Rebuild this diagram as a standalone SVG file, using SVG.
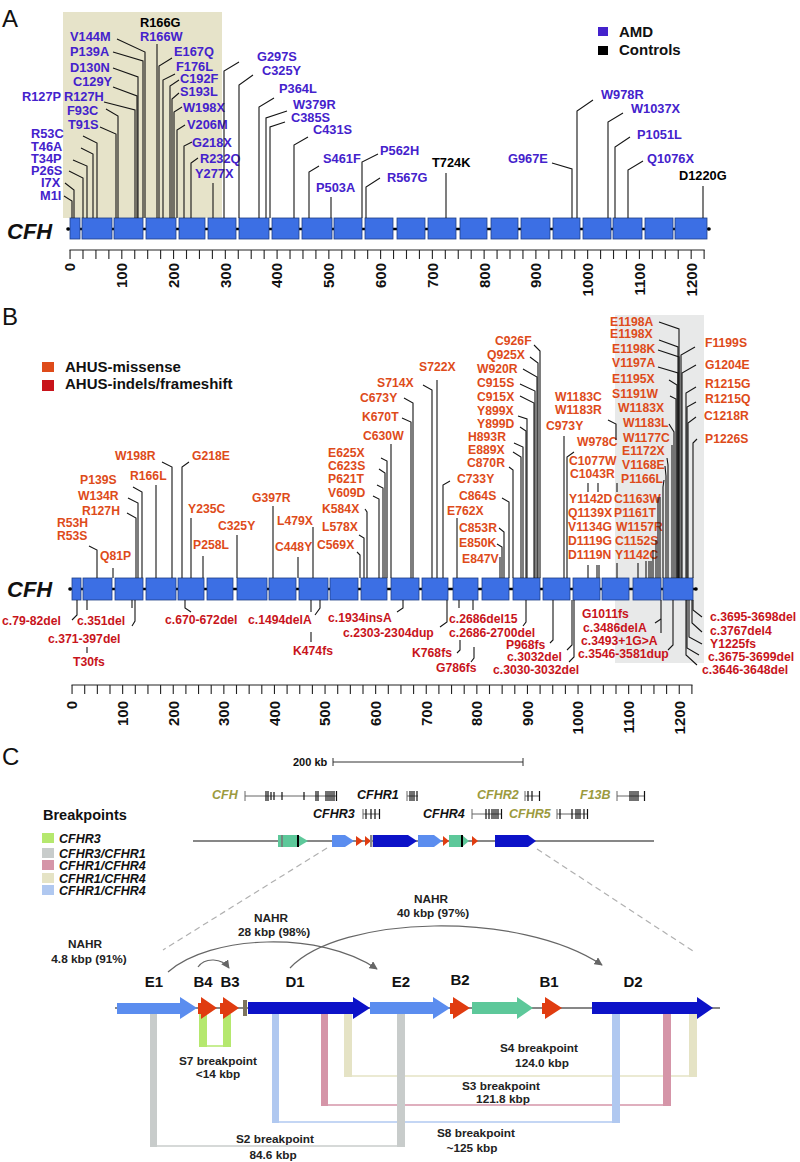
<svg xmlns="http://www.w3.org/2000/svg" width="800" height="1162" viewBox="0 0 800 1162">
<style>
text{font-family:"Liberation Sans",Arial,Helvetica,sans-serif;font-weight:bold}
.pl{font-size:24px;font-weight:normal;fill:#111}
.a{font-size:12.8px;fill:#4422cc}
.k{fill:#000}
.o{font-size:12.2px;fill:#de4b1a}
.r{font-size:12.2px;fill:#c8141b}
.ax{font-size:15px;fill:#111;text-anchor:end}
.gl{font-size:22px;font-style:italic;fill:#111}
.lg{font-size:15px;fill:#111}
.ld{fill:none;stroke:#151515;stroke-width:1.1}
.bx{fill:#3c6fe4;stroke:#1f3f85;stroke-width:0.8}
.bb{stroke:#000;stroke-width:2.4}
.tk{fill:none;stroke:#222;stroke-width:9;stroke-dasharray:1.1 11.84}
.c{font-size:11.8px;fill:#222;text-anchor:middle}
.gi{font-size:12.5px;font-style:italic;fill:#111}
.ol{fill:#9c9a3e}
.gn{fill:none;stroke:#666;stroke-width:1}
.ex{stroke:#111;stroke-width:1.2}
.lb{fill:#5b8def}
.db{fill:#0c12c8}
.gr{fill:#5dc89a}
.rd{fill:#e03c10}
.arc{fill:none;stroke:#666;stroke-width:1.2;marker-end:url(#ah)}
.dash{stroke:#b0b0b0;stroke-width:1.2;stroke-dasharray:6 4}
.gen{font-size:15px;fill:#111;text-anchor:middle}
</style>
<defs>
<marker id="ah" viewBox="0 0 10 10" refX="9" refY="5" markerWidth="7" markerHeight="7" orient="auto"><path d="M0,0 L10,5 L0,10 z" fill="#666"/></marker>
</defs>
<rect width="800" height="1162" fill="#fff"/>

<!-- ================= PANEL A ================= -->
<g id="panelA">
<text class="pl" x="2" y="27">A</text>
<rect id="A-shade" x="63" y="12" width="159" height="206" fill="#e6e3c9"/>
<g id="A-legend">
<rect x="598" y="27" width="10" height="9" fill="#4422cc"/>
<text class="lg" x="619" y="37">AMD</text>
<rect x="598" y="46" width="10" height="9" fill="#000"/>
<text class="lg" x="619" y="55">Controls</text>
</g>
<g id="A-gene">
<text class="gl" x="7" y="239">CFH</text>
<line class="bb" x1="68" y1="229" x2="709" y2="229"/>
<circle cx="68" cy="229" r="1.8"/><circle cx="709" cy="229" r="1.8"/>
<rect class="bx" x="70" y="218" width="10" height="21"/>
<rect class="bx" x="82" y="218" width="30" height="21"/>
<rect class="bx" x="114" y="218" width="29" height="21"/>
<rect class="bx" x="146" y="218" width="30" height="21"/>
<rect class="bx" x="179" y="218" width="26" height="21"/>
<rect class="bx" x="208" y="218" width="28" height="21"/>
<rect class="bx" x="239" y="218" width="30" height="21"/>
<rect class="bx" x="272" y="218" width="27" height="21"/>
<rect class="bx" x="302" y="218" width="30" height="21"/>
<rect class="bx" x="334" y="218" width="28" height="21"/>
<rect class="bx" x="365" y="218" width="28" height="21"/>
<rect class="bx" x="397" y="218" width="28" height="21"/>
<rect class="bx" x="428" y="218" width="28" height="21"/>
<rect class="bx" x="460" y="218" width="27" height="21"/>
<rect class="bx" x="491" y="218" width="27" height="21"/>
<rect class="bx" x="521" y="218" width="29" height="21"/>
<rect class="bx" x="553" y="218" width="27" height="21"/>
<rect class="bx" x="583" y="218" width="28" height="21"/>
<rect class="bx" x="613" y="218" width="29" height="21"/>
<rect class="bx" x="645" y="218" width="28" height="21"/>
<rect class="bx" x="675" y="218" width="32" height="21"/>
</g>
<g id="A-axis">
<line x1="69.5" y1="250" x2="704.7" y2="250" stroke="#222" stroke-width="1"/>
<line class="tk" x1="69.5" y1="254.5" x2="704.7" y2="254.5"/>
<text class="ax" transform="translate(75.4,263) rotate(-90)">0</text>
<text class="ax" transform="translate(127.2,263) rotate(-90)">100</text>
<text class="ax" transform="translate(178.9,263) rotate(-90)">200</text>
<text class="ax" transform="translate(230.7,263) rotate(-90)">300</text>
<text class="ax" transform="translate(282.4,263) rotate(-90)">400</text>
<text class="ax" transform="translate(334.2,263) rotate(-90)">500</text>
<text class="ax" transform="translate(386,263) rotate(-90)">600</text>
<text class="ax" transform="translate(437.7,263) rotate(-90)">700</text>
<text class="ax" transform="translate(489.5,263) rotate(-90)">800</text>
<text class="ax" transform="translate(541.2,263) rotate(-90)">900</text>
<text class="ax" transform="translate(593,263) rotate(-90)">1000</text>
<text class="ax" transform="translate(644.8,263) rotate(-90)">1100</text>
<text class="ax" transform="translate(696.5,263) rotate(-90)">1200</text>
</g>
<g id="A-labels">
<text class="a" x="40" y="200">M1I</text>
<text class="a" x="41" y="187">I7X</text>
<text class="a" x="31" y="175">P26S</text>
<text class="a" x="31" y="163">T34P</text>
<text class="a" x="31" y="151">T46A</text>
<text class="a" x="31" y="138">R53C</text>
<text class="a" x="68" y="129">T91S</text>
<text class="a" x="67" y="115">F93C</text>
<text class="a" x="22" y="101">R127P</text>
<text class="a" x="64" y="101">R127H</text>
<text class="a" x="73" y="86">C129Y</text>
<text class="a" x="70" y="72">D130N</text>
<text class="a" x="70" y="56">P139A</text>
<text class="a" x="70" y="41">V144M</text>
<text class="a k" x="140" y="27">R166G</text>
<text class="a" x="140" y="41">R166W</text>
<text class="a" x="174" y="56">E167Q</text>
<text class="a" x="176" y="71">F176L</text>
<text class="a" x="180" y="83">C192F</text>
<text class="a" x="180" y="96">S193L</text>
<text class="a" x="183" y="112">W198X</text>
<text class="a" x="187" y="129">V206M</text>
<text class="a" x="192" y="147">G218X</text>
<text class="a" x="200" y="163">R232Q</text>
<text class="a" x="195" y="178">Y277X</text>
<text class="a" x="257" y="61">G297S</text>
<text class="a" x="262" y="75">C325Y</text>
<text class="a" x="279" y="93">P364L</text>
<text class="a" x="293" y="109">W379R</text>
<text class="a" x="291" y="122">C385S</text>
<text class="a" x="313" y="134">C431S</text>
<text class="a" x="323" y="163">S461F</text>
<text class="a" x="316" y="192">P503A</text>
<text class="a" x="380" y="155">P562H</text>
<text class="a" x="387" y="182">R567G</text>
<text class="a k" x="432" y="167">T724K</text>
<text class="a" x="508" y="163">G967E</text>
<text class="a" x="601" y="99">W978R</text>
<text class="a" x="631" y="113">W1037X</text>
<text class="a" x="637" y="139">P1051L</text>
<text class="a" x="647" y="163">Q1076X</text>
<text class="a k" x="679" y="180">D1220G</text>
</g>
</g>

<!-- ================= PANEL B ================= -->
<g id="panelB">
<text class="pl" x="2" y="325">B</text>
<rect id="B-shade" x="615" y="315" width="89" height="348" fill="#e8e9e9"/>
<g id="B-legend">
<rect x="42" y="362" width="12" height="10" fill="#de4b1a"/>
<text class="lg" x="65" y="372">AHUS-missense</text>
<rect x="42" y="380" width="12" height="11" fill="#c8141b"/>
<text class="lg" x="65" y="389">AHUS-indels/frameshift</text>
</g>
<g id="B-gene">
<text class="gl" x="7" y="597">CFH</text>
<line class="bb" x1="70" y1="589" x2="696" y2="589"/>
<circle cx="70" cy="589" r="1.8"/><circle cx="696" cy="589" r="1.8"/>
<rect class="bx" x="72" y="578" width="9" height="22"/>
<rect class="bx" x="83" y="578" width="29" height="22"/>
<rect class="bx" x="115" y="578" width="28" height="22"/>
<rect class="bx" x="146" y="578" width="30" height="22"/>
<rect class="bx" x="178" y="578" width="26" height="22"/>
<rect class="bx" x="207" y="578" width="26" height="22"/>
<rect class="bx" x="237" y="578" width="30" height="22"/>
<rect class="bx" x="269" y="578" width="27" height="22"/>
<rect class="bx" x="299" y="578" width="29" height="22"/>
<rect class="bx" x="330" y="578" width="28" height="22"/>
<rect class="bx" x="361" y="578" width="26" height="22"/>
<rect class="bx" x="391" y="578" width="28" height="22"/>
<rect class="bx" x="422" y="578" width="26" height="22"/>
<rect class="bx" x="453" y="578" width="25" height="22"/>
<rect class="bx" x="482" y="578" width="27" height="22"/>
<rect class="bx" x="513" y="578" width="27" height="22"/>
<rect class="bx" x="543" y="578" width="27" height="22"/>
<rect class="bx" x="573" y="578" width="27" height="22"/>
<rect class="bx" x="602" y="578" width="27" height="22"/>
<rect class="bx" x="633" y="578" width="28" height="22"/>
<rect class="bx" x="663" y="578" width="30" height="22"/>
</g>
<g id="B-axis">
<line x1="71.5" y1="685" x2="692.5" y2="685" stroke="#222" stroke-width="1"/>
<line class="tk" style="stroke-dasharray:1.1 11.55" x1="71.5" y1="689.5" x2="692.5" y2="689.5"/>
<text class="ax" transform="translate(77.4,701) rotate(-90)">0</text>
<text class="ax" transform="translate(128,701) rotate(-90)">100</text>
<text class="ax" transform="translate(178.6,701) rotate(-90)">200</text>
<text class="ax" transform="translate(229.2,701) rotate(-90)">300</text>
<text class="ax" transform="translate(279.8,701) rotate(-90)">400</text>
<text class="ax" transform="translate(330.4,701) rotate(-90)">500</text>
<text class="ax" transform="translate(381,701) rotate(-90)">600</text>
<text class="ax" transform="translate(431.6,701) rotate(-90)">700</text>
<text class="ax" transform="translate(482.2,701) rotate(-90)">800</text>
<text class="ax" transform="translate(532.8,701) rotate(-90)">900</text>
<text class="ax" transform="translate(583.4,701) rotate(-90)">1000</text>
<text class="ax" transform="translate(634,701) rotate(-90)">1100</text>
<text class="ax" transform="translate(684.6,701) rotate(-90)">1200</text>
</g>
<g id="B-labels-top">
<text class="o" x="57" y="527">R53H</text>
<text class="o" x="57" y="540">R53S</text>
<text class="o" x="100" y="560">Q81P</text>
<text class="o" x="82" y="515">R127H</text>
<text class="o" x="78" y="500">W134R</text>
<text class="o" x="80" y="484">P139S</text>
<text class="o" x="130" y="480">R166L</text>
<text class="o" x="115" y="460">W198R</text>
<text class="o" x="192" y="460">G218E</text>
<text class="o" x="188" y="513">Y235C</text>
<text class="o" x="193" y="549">P258L</text>
<text class="o" x="218" y="530">C325Y</text>
<text class="o" x="252" y="502">G397R</text>
<text class="o" x="277" y="525">L479X</text>
<text class="o" x="275" y="551">C448Y</text>
<text class="o" x="317" y="549">C569X</text>
<text class="o" x="322" y="531">L578X</text>
<text class="o" x="322" y="513">K584X</text>
<text class="o" x="328" y="497">V609D</text>
<text class="o" x="328" y="483">P621T</text>
<text class="o" x="328" y="470">C623S</text>
<text class="o" x="328" y="457">E625X</text>
<text class="o" x="363" y="440">C630W</text>
<text class="o" x="362" y="421">K670T</text>
<text class="o" x="360" y="402">C673Y</text>
<text class="o" x="377" y="387">S714X</text>
<text class="o" x="419" y="371">S722X</text>
<text class="o" x="457" y="483">C733Y</text>
<text class="o" x="447" y="515">E762X</text>
<text class="o" x="462" y="563">E847V</text>
<text class="o" x="459" y="547">E850K</text>
<text class="o" x="459" y="532">C853R</text>
<text class="o" x="459" y="500">C864S</text>
<text class="o" x="467" y="467">C870R</text>
<text class="o" x="468" y="454">E889X</text>
<text class="o" x="468" y="441">H893R</text>
<text class="o" x="477" y="428">Y899D</text>
<text class="o" x="477" y="415">Y899X</text>
<text class="o" x="477" y="401">C915X</text>
<text class="o" x="477" y="387">C915S</text>
<text class="o" x="477" y="373">W920R</text>
<text class="o" x="487" y="359">Q925X</text>
<text class="o" x="495" y="345">C926F</text>
<text class="o" x="546" y="430">C973Y</text>
<text class="o" x="577" y="446">W978C</text>
<text class="o" x="555" y="401">W1183C</text>
<text class="o" x="555" y="414">W1183R</text>
<text class="o" x="569" y="465">C1077W</text>
<text class="o" x="570" y="478">C1043R</text>
<text class="o" x="569" y="503">Y1142D</text>
<text class="o" x="568" y="517">Q1139X</text>
<text class="o" x="568" y="531">V1134G</text>
<text class="o" x="568" y="545">D1119G</text>
<text class="o" x="568" y="559">D1119N</text>
<text class="o" x="614" y="503">C1163W</text>
<text class="o" x="614" y="517">P1161T</text>
<text class="o" x="616" y="531">W1157R</text>
<text class="o" x="615" y="545">C1152S</text>
<text class="o" x="615" y="559">Y1142C</text>
<text class="o" x="610" y="326">E1198A</text>
<text class="o" x="610" y="338">E1198X</text>
<text class="o" x="612" y="353">E1198K</text>
<text class="o" x="612" y="367">V1197A</text>
<text class="o" x="612" y="383">E1195X</text>
<text class="o" x="612" y="398">S1191W</text>
<text class="o" x="618" y="412">W1183X</text>
<text class="o" x="623" y="427">W1183L</text>
<text class="o" x="623" y="442">W1177C</text>
<text class="o" x="622" y="455">E1172X</text>
<text class="o" x="622" y="469">V1168E</text>
<text class="o" x="621" y="483">P1166L</text>
<text class="o" x="705" y="347">F1199S</text>
<text class="o" x="705" y="369">G1204E</text>
<text class="o" x="705" y="388">R1215G</text>
<text class="o" x="705" y="403">R1215Q</text>
<text class="o" x="704" y="420">C1218R</text>
<text class="o" x="705" y="443">P1226S</text>
</g>
<g id="B-labels-bottom">
<text class="r" x="2" y="625">c.79-82del</text>
<text class="r" x="77" y="625">c.351del</text>
<text class="r" x="48" y="643">c.371-397del</text>
<text class="r" x="73" y="666">T30fs</text>
<text class="r" x="165" y="624">c.670-672del</text>
<text class="r" x="248" y="624">c.1494delA</text>
<text class="r" x="293" y="655">K474fs</text>
<text class="r" x="328" y="622">c.1934insA</text>
<text class="r" x="343" y="637">c.2303-2304dup</text>
<text class="r" x="412" y="657">K768fs</text>
<text class="r" x="436" y="672">G786fs</text>
<text class="r" x="449" y="623">c.2686del15</text>
<text class="r" x="449" y="637">c.2686-2700del</text>
<text class="r" x="506" y="649">P968fs</text>
<text class="r" x="507" y="661">c.3032del</text>
<text class="r" x="493" y="674">c.3030-3032del</text>
<text class="r" x="582" y="618">G1011fs</text>
<text class="r" x="583" y="632">c.3486delA</text>
<text class="r" x="581" y="645">c.3493+1G&gt;A</text>
<text class="r" x="578" y="658">c.3546-3581dup</text>
<text class="r" x="710" y="621">c.3695-3698del</text>
<text class="r" x="710" y="635">c.3767del4</text>
<text class="r" x="710" y="648">Y1225fs</text>
<text class="r" x="708" y="661">c.3675-3699del</text>
<text class="r" x="702" y="674">c.3646-3648del</text>
</g>
</g>

<!-- ================= CONNECTORS (A & B leaders) ================= -->
<g id="connectors">
<g id="A-leaders" class="ld">
<polyline points="64,196 72,201 72,218"/>
<polyline points="65,183 74,190 74,218"/>
<polyline points="69,171 83,178 83,218"/>
<polyline points="73,160 87,166 87,218"/>
<polyline points="81,148 93,154 93,218"/>
<polyline points="83,136 97,143 97,218"/>
<polyline points="100,127 116,134 116,218"/>
<polyline points="106,109 118,116 118,218"/>
<polyline points="104,102 135,110 135,218"/>
<polyline points="113,87 137,96 137,218"/>
<polyline points="113,68 138,77 138,218"/>
<polyline points="113,52 143,61 143,218"/>
<polyline points="117,39 145,52 145,218"/>
<polyline points="157,44 157,218"/>
<polyline points="172,58 159,66 159,218"/>
<polyline points="175,74 163,80 163,218"/>
<polyline points="179,80 170,86 170,218"/>
<polyline points="179,93 172,99 172,218"/>
<polyline points="182,107 174,112 174,218"/>
<polyline points="185,125 177,130 177,218"/>
<polyline points="192,142 184,146 184,218"/>
<polyline points="198,158 191,163 191,218"/>
<polyline points="213,183 213,218"/>
<polyline points="239,62 224,71 224,218"/>
<polyline points="253,75 239,85 239,218"/>
<polyline points="274,98 259,107 259,218"/>
<polyline points="287,111 266,118 266,218"/>
<polyline points="285,122 270,127 270,218"/>
<polyline points="308,137 294,145 294,218"/>
<polyline points="319,166 309,172 309,218"/>
<polyline points="331,197 331,218"/>
<polyline points="378,154 362,162 362,218"/>
<polyline points="380,178 366,187 366,218"/>
<polyline points="446,173 446,218"/>
<polyline points="552,163 572,169 572,218"/>
<polyline points="593,100 577,111 577,218"/>
<polyline points="623,113 608,122 608,218"/>
<polyline points="630,137 615,147 615,218"/>
<polyline points="643,161 628,170 628,218"/>
<polyline points="703,186 703,218"/>
</g>
<g id="B-leaders-top" class="ld">
<polyline points="89,546 97,550 97,578"/>
<polyline points="113,568 113,578"/>
<polyline points="127,513 136,518 136,578"/>
<polyline points="128,498 138,503 138,578"/>
<polyline points="133,487 142,492 142,578"/>
<polyline points="156,485 156,578"/>
<polyline points="162,462 172,467 172,578"/>
<polyline points="189,462 182,467 182,578"/>
<polyline points="191,518 191,578"/>
<polyline points="203,556 203,578"/>
<polyline points="237,535 237,578"/>
<polyline points="273,506 273,578"/>
<polyline points="313,527 313,578"/>
<polyline points="298,557 298,578"/>
<polyline points="357,552 360,555 360,578"/>
<polyline points="359,535 364,538 364,578"/>
<polyline points="365,509 367,512 367,578"/>
<polyline points="373,496 379,499 379,578"/>
<polyline points="377,485 383,488 383,578"/>
<polyline points="379,469 385,473 385,578"/>
<polyline points="381,458 387,461 387,578"/>
<polyline points="391,444 391,578"/>
<polyline points="402,418 411,422 411,578"/>
<polyline points="404,398 413,403 413,578"/>
<polyline points="423,385 432,390 432,578"/>
<polyline points="437,380 437,578"/>
<polyline points="450,481 443,485 443,578"/>
<polyline points="457,518 457,578"/>
<polyline points="500,557 500,578"/>
<polyline points="497,544 502,547 502,578"/>
<polyline points="499,528 504,532 504,578"/>
<polyline points="502,498 509,502 509,578"/>
<polyline points="509,467 513,470 513,578"/>
<polyline points="513,452 521,457 521,578"/>
<polyline points="514,443 523,447 523,578"/>
<polyline points="520,427 526,431 526,578"/>
<polyline points="518,416 527,419 527,578"/>
<polyline points="520,396 534,403 534,578"/>
<polyline points="520,384 535,391 535,578"/>
<polyline points="523,369 537,377 537,578"/>
<polyline points="530,357 538,363 538,578"/>
<polyline points="534,345 540,351 540,578"/>
<polyline points="564,436 564,578"/>
<polyline points="574,452 567,457 567,578"/>
<polyline points="608,420 616,424 616,440"/>
<polyline points="588,483 588,492"/>
<polyline points="598,483 598,492"/>
<polyline points="617,483 617,492"/>
<polyline points="588,565 588,578"/>
<polyline points="597,565 597,578"/>
<polyline points="599,565 599,578"/>
<polyline points="617,563 617,578"/>
<polyline points="638,563 638,578"/>
<polyline points="646,561 646,578"/>
<polyline points="649,561 649,578"/>
<polyline points="651,561 651,578"/>
<polyline points="653,550 653,578"/>
<polyline points="656,540 656,578"/>
<polyline points="658,497 658,578"/>
<polyline points="660,497 660,578"/>
<polyline points="664,480 663,487 663,578"/>
<polyline points="665,466 666,476 666,578"/>
<polyline points="667,458 668,465 668,578"/>
<polyline points="672,445 672,578"/>
<polyline points="669,424 674,432 674,578"/>
<polyline points="670,396 676,399 676,578"/>
<polyline points="669,380 677,385 677,578"/>
<polyline points="658,367 678,373 678,578"/>
<polyline points="658,350 679,357 679,578"/>
<polyline points="659,340 678,347 678,578"/>
<polyline points="659,322 679,329 679,578"/>
<polyline points="695,347 681,355 681,578"/>
<polyline points="696,365 682,373 682,578"/>
<polyline points="696,387 686,393 686,578"/>
<polyline points="696,402 687,407 687,578"/>
<polyline points="696,417 688,423 688,578"/>
<polyline points="697,439 693,443 693,578"/>
</g>
<g id="B-leaders-bottom" class="ld">
<polyline points="77,600 77,615 72,620"/>
<polyline points="87,600 87,610"/>
<polyline points="87,647 87,653"/>
<polyline points="132,600 132,608"/>
<polyline points="135,600 135,621 132,626"/>
<polyline points="185,600 185,608 191,612"/>
<polyline points="311,600 311,612"/>
<polyline points="320,600 320,608 315,615"/>
<polyline points="311,632 311,642"/>
<polyline points="403,600 403,608 397,612"/>
<polyline points="447,600 447,622 440,627"/>
<polyline points="459,600 459,608"/>
<polyline points="460,640 460,650 457,653"/>
<polyline points="473,600 473,610"/>
<polyline points="474,647 474,658 471,662"/>
<polyline points="526,600 526,622 523,626"/>
<polyline points="553,600 553,640 550,643"/>
<polyline points="572,600 572,645 567,650"/>
<polyline points="574,600 574,657 569,662"/>
<polyline points="661,600 661,633"/>
<polyline points="655,623 661,619"/>
<polyline points="673,600 673,645 668,650"/>
<polyline points="693,600 693,610 702,617"/>
<polyline points="692,600 692,623 702,632"/>
<polyline points="689,600 689,637 702,644"/>
<polyline points="687,600 687,648 699,655"/>
<polyline points="686,600 686,655 697,665"/>
</g>
</g>

<!-- ================= PANEL C ================= -->
<g id="panelC">
<text class="pl" x="2" y="765">C</text>
<g id="C-scalebar">
<text x="293" y="766" style="font-size:11px;fill:#111">200 kb</text>
<path d="M333,762 H523 M333,758 V766 M523,758 V766" stroke="#333" stroke-width="1" fill="none"/>
</g>
<g id="C-legend">
<text x="43" y="820" style="font-size:14.5px;fill:#111">Breakpoints</text>
<rect x="42" y="833" width="12" height="10" fill="#b5e86e"/>
<text class="gi" x="59" y="843">CFHR3</text>
<rect x="42" y="848" width="12" height="10" fill="#c8cccb"/>
<text class="gi" x="59" y="858">CFHR3/CFHR1</text>
<rect x="42" y="860" width="12" height="10" fill="#d595a8"/>
<text class="gi" x="59" y="870">CFHR1/CFHR4</text>
<rect x="42" y="873" width="12" height="10" fill="#e5e3c5"/>
<text class="gi" x="59" y="883">CFHR1/CFHR4</text>
<rect x="42" y="885" width="12" height="10" fill="#b0c8f0"/>
<text class="gi" x="59" y="895">CFHR1/CFHR4</text>
</g>
<g id="C-genes">
<text class="gi ol" x="212" y="799">CFH</text>
<path class="gn" d="M245,796 H337 M245,791 V801"/>
<path class="ex" d="M266,791V801M268,791V801M271,792V800M274,792V800M282,792V800M304,792V800M316,791V801M318,791V801M326,791V801M328,791V801M330,791V801M332,791V801M334,791V801M336.5,791V801"/>
<text class="gi" x="357" y="799">CFHR1</text>
<path class="gn" d="M407,796 H418 M407,791 V801"/>
<path class="ex" d="M410,791V801M412,791V801M414,791V801M417,791V801"/>
<text class="gi ol" x="477" y="799">CFHR2</text>
<path class="gn" d="M525,796 H540 M525,791 V801"/>
<path class="ex" d="M528,791V801M532,791V801M539.5,791V801"/>
<text class="gi ol" x="580" y="799">F13B</text>
<path class="gn" d="M617,796 H645 M617,791 V801"/>
<path class="ex" d="M630,791V801M632,791V801M634,791V801M636,791V801M638,791V801M644.5,791V801"/>
<text class="gi" x="313" y="818">CFHR3</text>
<path class="gn" d="M363,814 H380 M363,809 V819"/>
<path class="ex" d="M366,809V819M371,809V819M375,809V819M379.5,809V819"/>
<text class="gi" x="423" y="818">CFHR4</text>
<path class="gn" d="M472,814 H502 M472,809 V819"/>
<path class="ex" d="M486,809V819M489,809V819M492,809V819M494,809V819M496,809V819M498,809V819M501.5,809V819"/>
<text class="gi ol" x="509" y="818">CFHR5</text>
<path class="gn" d="M557,814 H588 M557,809 V819"/>
<path class="ex" d="M560,809V819M572,809V819M576,809V819M578,809V819M580,809V819M584,809V819M587.5,809V819"/>
</g>
<g id="C-chromosome">
<line x1="193" y1="841" x2="654" y2="841" stroke="#111" stroke-width="1.2"/>
<polygon class="gr" points="278,835 298,835 308,841 298,847 278,847"/>
<line x1="282" y1="835" x2="282" y2="847" stroke="#777" stroke-width="1.6"/>
<line x1="298" y1="835" x2="298" y2="847" stroke="#000" stroke-width="2"/>
<polygon class="lb" points="332,835 345,835 354,841 345,847 332,847"/>
<polygon class="rd" points="356,836 363,841 356,846"/>
<polygon class="rd" points="365,836 371,841 365,846"/>
<rect x="370" y="835" width="2.5" height="12" fill="#888"/>
<polygon class="db" points="373,835 408,835 417,841 408,847 373,847"/>
<polygon class="lb" points="418,835 434,835 442,841 434,847 418,847"/>
<polygon class="rd" points="443,836 449,841 443,846"/>
<polygon class="gr" points="449,835 462,835 469,841 462,847 449,847"/>
<line x1="462" y1="835" x2="462" y2="847" stroke="#000" stroke-width="2"/>
<polygon class="rd" points="472,836 478,841 472,846"/>
<polygon class="db" points="495,835 528,835 536,841 528,847 495,847"/>
<line class="dash" x1="327" y1="848" x2="163" y2="950"/>
<line class="dash" x1="537" y1="849" x2="696" y2="953"/>
</g>
<g id="C-nahr-labels">
<text class="c" x="85" y="948">NAHR</text>
<text class="c" x="89" y="963">4.8 kbp (91%)</text>
<text class="c" x="271" y="922">NAHR</text>
<text class="c" x="274" y="936">28 kbp (98%)</text>
<text class="c" x="431" y="903">NAHR</text>
<text class="c" x="433" y="917">40 kbp (97%)</text>
</g>
<g id="C-arcs">
<path class="arc" d="M168,972 C210,935 320,930 377,969"/>
<path class="arc" d="M290,968 C340,915 520,910 602,965"/>
<path class="arc" d="M198,967 C205,957 222,958 229,968"/>
</g>
<g id="C-breakpoint-links">
<line x1="153" y1="1146" x2="401" y2="1146" stroke="#c8cccb" stroke-width="1.5"/>
<line x1="203" y1="1046" x2="227" y2="1046" stroke="#b5e86e" stroke-width="1.5"/>
<line x1="275" y1="1122" x2="616" y2="1122" stroke="#b0c8f0" stroke-width="1.5"/>
<line x1="324" y1="1105" x2="667" y2="1105" stroke="#d595a8" stroke-width="1.5"/>
<line x1="348" y1="1076" x2="693" y2="1076" stroke="#e5e3c5" stroke-width="1.5"/>
<rect x="150" y="1014" width="7" height="133" fill="#c8cccb"/>
<rect x="397" y="1014" width="8" height="133" fill="#c8cccb"/>
<rect x="199" y="1014" width="8" height="33" fill="#b5e86e"/>
<rect x="223" y="1014" width="8" height="33" fill="#b5e86e"/>
<rect x="272" y="1014" width="7" height="109" fill="#b0c8f0"/>
<rect x="612" y="1014" width="8" height="109" fill="#b0c8f0"/>
<rect x="321" y="1014" width="7" height="92" fill="#d595a8"/>
<rect x="663" y="1014" width="8" height="92" fill="#d595a8"/>
<rect x="344" y="1014" width="8" height="63" fill="#e5e3c5"/>
<rect x="689" y="1014" width="8" height="63" fill="#e5e3c5"/>
</g>
<g id="C-detail">
<line x1="115" y1="1008" x2="720" y2="1008" stroke="#111" stroke-width="1.2"/>
<g id="E1"><polygon class="lb" points="117,1003 180,1003 180,997 197,1008 180,1019 180,1014 117,1014"/><text class="gen" x="154" y="987">E1</text></g>
<g id="B4"><polygon class="rd" points="198,1003 201,1003 201,997 217,1008 201,1019 201,1014 198,1014"/><text class="gen" x="203" y="987">B4</text></g>
<g id="B3"><polygon class="rd" points="220,1003 223,1003 223,997 239,1008 223,1019 223,1014 220,1014"/><text class="gen" x="230" y="987">B3</text></g>
<rect x="243" y="1000" width="4" height="16" fill="#7d745e"/>
<g id="D1"><polygon class="db" points="248,1002 353,1002 353,997 370,1008 353,1019 353,1014 248,1014"/><text class="gen" x="295" y="987">D1</text></g>
<g id="E2"><polygon class="lb" points="370,1002 433,1002 433,997 450,1008 433,1019 433,1014 370,1014"/><text class="gen" x="401" y="987">E2</text></g>
<g id="B2"><polygon class="rd" points="450,1003 453,1003 453,997 470,1008 453,1019 453,1014 450,1014"/><text class="gen" x="460" y="985">B2</text></g>
<polygon class="gr" points="472,1002 517,1002 517,997 533,1008 517,1019 517,1014 472,1014"/>
<g id="B1"><polygon class="rd" points="542,1003 545,1003 545,997 562,1008 545,1019 545,1014 542,1014"/><text class="gen" x="549" y="987">B1</text></g>
<g id="D2"><polygon class="db" points="592,1002 697,1002 697,997 713,1008 697,1019 697,1014 592,1014"/><text class="gen" x="633" y="987">D2</text></g>
</g>
<g id="C-breakpoint-labels">
<text class="c" x="218" y="1065">S7 breakpoint</text>
<text class="c" x="218" y="1078">&lt;14 kbp</text>
<text class="c" x="539" y="1052">S4 breakpoint</text>
<text class="c" x="542" y="1067">124.0 kbp</text>
<text class="c" x="501" y="1090">S3 breakpoint</text>
<text class="c" x="503" y="1103">121.8 kbp</text>
<text class="c" x="275" y="1143">S2 breakpoint</text>
<text class="c" x="273" y="1159">84.6 kbp</text>
<text class="c" x="476" y="1137">S8 breakpoint</text>
<text class="c" x="472" y="1152">~125 kbp</text>
</g>
</g>
</svg>
